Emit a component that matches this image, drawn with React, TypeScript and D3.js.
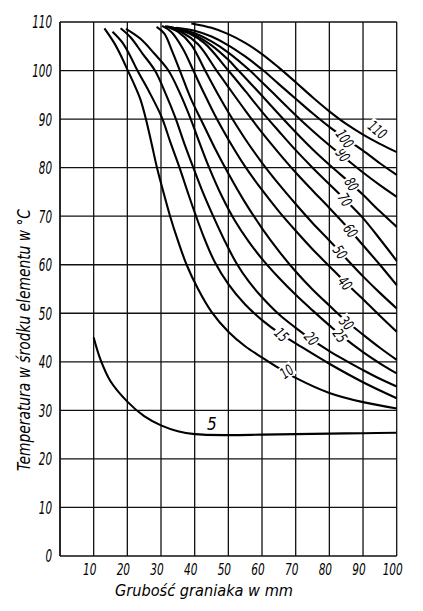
import React from "react";
import * as d3 from "d3";

// ---- data (x: thickness in mm, y: temperature in °C) ----
const curve5: [number, number][] = [[10,45],[12,40.5],[15,36],[20,31.8],[25,28.8],[30,26.9],[35,25.7],[40,25.1],[50,24.9],[60,25],[70,25.1],[80,25.2],[90,25.3],[100,25.4]];
const curve10: [number, number][] = [[13.2,108.7],[16,105.8],[18,103.2],[20,100.2],[22,97.2],[23.8,94.2],[25.3,90.6],[27,85.6],[28.7,80.3],[30.7,75],[32.7,70],[35,65],[37.6,60],[41,55],[45,50.3],[50,46.2],[55,43.2],[60,40.9],[65,38.7],[70,36.7],[80,33.6],[90,31.7],[100,30.4]];
const curve15: [number, number][] = [[15.6,108],[18.5,105.8],[21,102.8],[23,100],[26.5,95.6],[30.2,90.4],[32.8,85.2],[35.5,80],[38,74.8],[40.4,70],[43,65.2],[46,60.5],[50,56],[55,51.8],[60,48.6],[65.8,45.6],[70,43.8],[80,39.6],[90,35.8],[100,32.5]];
const curve20: [number, number][] = [[18,108.7],[21,106.8],[24.5,103.5],[28.2,100],[31.2,95.5],[34.2,90.4],[36.9,85],[39.6,80],[42.5,74.8],[45.5,70],[49,64.8],[52.5,60.2],[56,56.6],[60,53.3],[65,49.8],[70,47],[74.7,44.6],[80,42.2],[85,40.2],[90,38.3],[95,36.5],[100,34.9]];
const curve25: [number, number][] = [[19.6,108.6],[24,106.5],[28,103.5],[32.2,100],[35.5,95.5],[38.6,90.4],[41.5,85],[44.3,80],[48,74.2],[52,69],[56,64.8],[60,61.2],[65,57.3],[70,53.8],[75,50.6],[80,47.5],[83.2,45.6],[90,42],[95,39.7],[100,37.6]];
const curve30: [number, number][] = [[28.7,109],[31,107.6],[33.3,104],[35.6,100],[39,94],[42.5,89],[46,84],[50,78.8],[55,72.8],[60,67.5],[65,62.8],[70,58.6],[75,54.9],[80,51.6],[85,48.4],[90,45.6],[95,42.9],[100,40.4]];
const curve40: [number, number][] = [[30.3,109.2],[33,108],[36.5,104.5],[39.6,100],[43,95],[46.6,90],[50,85.8],[55,80.2],[60,75.4],[65,71],[70,67],[75,63.2],[80,59.7],[84.7,56.4],[90,52.9],[95,49.5],[100,46.2]];
const curve50: [number, number][] = [[31.2,109.2],[35,108],[39,105.3],[43.1,100],[47,95],[50,91.4],[55,85.9],[60,81],[65,76.6],[70,72.5],[75,68.6],[80,65],[83.2,62.6],[90,57.6],[95,54.2],[100,51]];
const curve60: [number, number][] = [[31.8,109.1],[36,108],[41,105.4],[46.5,100],[50,96.6],[55,91.8],[60,87.2],[65,83],[70,79],[75,75.3],[80,71.7],[86.3,67],[90,64],[95,60],[100,55.8]];
const curve70: [number, number][] = [[32.4,109],[38,107.8],[43,105.6],[50,100],[55,95.8],[60,91.5],[65,87.5],[70,83.6],[75,80],[80,76.6],[84.7,73.4],[90,69.6],[95,65.3],[100,60.8]];
const curve80: [number, number][] = [[33,108.9],[40,107.3],[45,105.2],[50,102.2],[53,100],[60,94.8],[65,91],[70,87.3],[75,83.8],[80,80.6],[86.6,76.6],[90,74.4],[95,71],[100,67.8]];
const curve90: [number, number][] = [[33.6,108.8],[40,107.7],[45,106],[50,103.7],[56.4,100],[60,97.6],[65,94.2],[70,90.8],[75,87.6],[80,84.6],[85,81.8],[90,79],[95,76.4],[100,74]];
const curve100: [number, number][] = [[34.5,108.8],[40,108.2],[45,107],[50,105.2],[55,102.9],[60.4,100],[65,97.2],[70,94.2],[75,91.2],[80,88.4],[85,85.9],[90,83.5],[95,80.9],[100,78.5]];
const curve110: [number, number][] = [[39,109.7],[45,108.8],[50,107.5],[55,105.7],[60,103.4],[65,100.6],[70,97.6],[75,94.5],[80,91.6],[85,89],[90,86.8],[95,84.9],[100,83.2]];

const curves = [curve5, curve10, curve15, curve20, curve25, curve30, curve40, curve50, curve60, curve70, curve80, curve90, curve100, curve110];

// curve labels with their anchor (mm, °C) and tilt
const labelTexts = ["5","10","15","20","25","30","40","50","60","70","80","90","100","110"];
const labelX = [45.1, 67.3, 65.8, 74.7, 83.2, 85.1, 84.7, 83.2, 86.3, 84.7, 86.6, 84.0, 84.6, 94.3];
const labelY = [27.3, 38.0, 45.6, 44.8, 45.4, 48.0, 56.2, 62.6, 67.0, 73.4, 76.6, 82.6, 86.0, 87.8];
const labelTilt = [0, -35, 45, 50, 55, 50, 50, 55, 55, 58, 58, 55, 55, 40];

const xTicks = [10, 20, 30, 40, 50, 60, 70, 80, 90, 100];
const yTicks = [0, 10, 20, 30, 40, 50, 60, 70, 80, 90, 100, 110];

const xTitle = "Grubość graniaka w mm";
const yTitle = "Temperatura w środku elementu w °C";

const W = 423, H = 611;
const FONT = "'DejaVu Sans Condensed', 'Liberation Sans Narrow', 'DejaVu Sans', sans-serif";

export default function App() {
  const x = d3.scaleLinear().domain([0, 100]).range([60, 396.7]);
  const y = d3.scaleLinear().domain([0, 110]).range([556, 22]);
  const line = d3.line<[number, number]>().x(d => x(d[0])).y(d => y(d[1])).curve(d3.curveCatmullRom.alpha(0.5));

  return (
    <svg width={W} height={H} viewBox={`0 0 ${W} ${H}`}
      style={{ position: "absolute", left: 0, top: 0, background: "#fff" }}>
      <rect x={0} y={0} width={W} height={H} fill="#fff" />
      {/* grid */}
      {xTicks.map(t => (
        <line key={"gx" + t} x1={x(t)} x2={x(t)} y1={y(0)} y2={y(110)} stroke="#111" strokeWidth={1.3} />
      ))}
      {yTicks.map(t => (
        <line key={"gy" + t} x1={x(0)} x2={x(100)} y1={y(t)} y2={y(t)} stroke="#111" strokeWidth={1.3} />
      ))}
      <line x1={x(0)} x2={x(0)} y1={y(0)} y2={y(110)} stroke="#111" strokeWidth={1.8} />
      {/* curves */}
      {curves.map((c, i) => (
        <path key={"c" + i} d={line(c) || ""} fill="none" stroke="#000" strokeWidth={2.1} />
      ))}
      {/* curve labels */}
      {labelTexts.map((t, i) => {
        const fs = 15;
        const len = t.length * 6.3;
        const w = len + 3;
        const h = fs * 0.95;
        const cx = x(labelX[i]);
        const cy = y(labelY[i]);
        return (
          <g key={"l" + i} transform={`translate(${cx},${cy}) rotate(${labelTilt[i]})`}>
            {i > 0 && <rect x={-w / 2} y={-h / 2} width={w} height={h} fill="#fff" />}
            <text x={0} y={0} dy="0.36em" textAnchor="middle" fontFamily={FONT}
              fontStyle="italic" fontSize={i === 0 ? 17 : fs} fill="#000"
              textLength={i === 0 ? undefined : len} lengthAdjust="spacingAndGlyphs">{t}</text>
          </g>
        );
      })}
      {/* tick labels */}
      {xTicks.map(t => (
        <text key={"tx" + t} x={x(t) - 4} y={575} textAnchor="middle" fontFamily={FONT}
          fontStyle="italic" fontSize={16.5} fill="#000"
          textLength={String(t).length * 6.7} lengthAdjust="spacingAndGlyphs">{t}</text>
      ))}
      {yTicks.map(t => (
        <text key={"ty" + t} x={52} y={y(t)} dy="0.36em" textAnchor="end" fontFamily={FONT}
          fontStyle="italic" fontSize={18} fill="#000"
          textLength={String(t).length * 6.6} lengthAdjust="spacingAndGlyphs">{t}</text>
      ))}
      {/* axis titles */}
      <text x={204} y={596} textAnchor="middle" fontFamily={FONT} fontStyle="italic" fontSize={16.5} fill="#000"
        textLength={178} lengthAdjust="spacingAndGlyphs">{xTitle}</text>
      <text transform={`translate(30,340) rotate(-90)`} textAnchor="middle" fontFamily={FONT}
        fontStyle="italic" fontSize={17} fill="#000" textLength={262} lengthAdjust="spacingAndGlyphs">{yTitle}</text>
    </svg>
  );
}
